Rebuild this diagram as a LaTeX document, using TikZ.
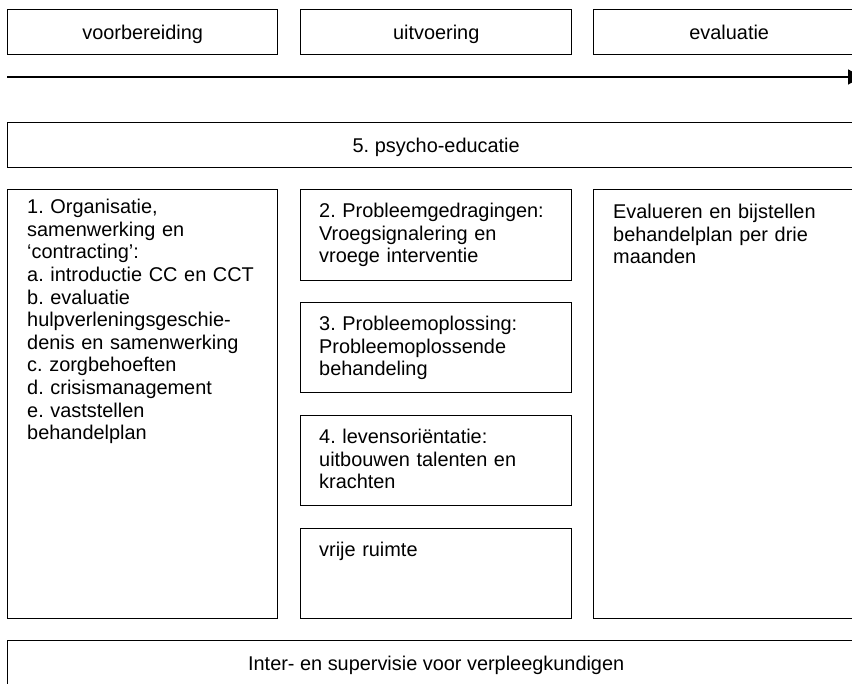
\documentclass[tikz,border=0pt]{standalone}
\usepackage{fontspec}
\setmainfont{Liberation Sans}
\usetikzlibrary{arrows.meta}
\frenchspacing
\tikzset{
  box/.style={draw=black, line width=1.4pt, rectangle, inner sep=0pt, anchor=north west},
  cbox/.style={box, font=\frenchspacing\fontsize{19.9}{22.6}\selectfont, text=black, text height=14.3pt, text depth=0pt},
  txt/.style={anchor=north west, inner sep=0pt, text width=250pt, align=left, font=\frenchspacing\fontsize{19.9}{22.6}\selectfont, text=black},
  timeline/.style={line width=1.6pt, -{Triangle[length=14pt,width=15pt]}}
}
\begin{document}
\begin{tikzpicture}[x=1pt,y=-1pt]
\useasboundingbox (0,0) rectangle (852,684);
% phase boxes
\node[cbox, minimum width=270pt, minimum height=45pt] (prep) at (7,9) {voorbereiding};
\node[cbox, minimum width=271pt, minimum height=45pt] (exec) at (300,9) {uitvoering};
\node[cbox, minimum width=271pt, minimum height=45pt] (eval) at (593,9) {evaluatie};
% timeline
\coordinate (tl) at (7,77);
\coordinate (tr) at (862,77);
\draw[timeline] (tl) -- (tr);
% psycho-education
\node[cbox, minimum width=857pt, minimum height=45pt] (psy) at (7,122) {5. psycho-educatie};
% left column
\node[box, minimum width=270pt, minimum height=429pt] (org) at (7,189) {};
\node[txt] (orgt) at ([xshift=20pt,yshift=-8.7pt]org.north west) {\strut 1. Organisatie,\\ samenwerking en\\ ‘contracting’:\\ a. introductie CC en CCT\\ b. evaluatie\\ hulpverleningsgeschie-\\ denis en samenwerking\\ c. zorgbehoeften\\ d. crisismanagement\\ e. vaststellen\\ behandelplan};
% middle column
\node[box, minimum width=271pt, minimum height=91pt] (pg) at (300,189) {};
\node[txt] (pgt) at ([xshift=19pt,yshift=-12.5pt]pg.north west) {\strut 2. Probleemgedragingen:\\ Vroegsignalering en\\ vroege interventie};
\node[box, minimum width=271pt, minimum height=90pt] (po) at (300,302) {};
\node[txt] (pot) at ([xshift=19pt,yshift=-12.5pt]po.north west) {\strut 3. Probleemoplossing:\\ Probleemoplossende\\ behandeling};
\node[box, minimum width=271pt, minimum height=90pt] (lo) at (300,415) {};
\node[txt] (lot) at ([xshift=19pt,yshift=-12.5pt]lo.north west) {\strut 4. levensoriëntatie:\\ uitbouwen talenten en\\ krachten};
\node[box, minimum width=271pt, minimum height=90pt] (vr) at (300,528) {};
\node[txt] (vrt) at ([xshift=19pt,yshift=-12.5pt]vr.north west) {\strut vrije ruimte};
% right column
\node[box, minimum width=271pt, minimum height=429pt] (ev) at (593,189) {};
\node[txt] (evt) at ([xshift=20pt,yshift=-13.5pt]ev.north west) {\strut Evalueren en bijstellen\\ behandelplan per drie\\ maanden};
% bottom
\node[cbox, minimum width=857pt, minimum height=45pt] (sup) at (7,640) {Inter- en supervisie voor verpleegkundigen};
\end{tikzpicture}
\end{document}
